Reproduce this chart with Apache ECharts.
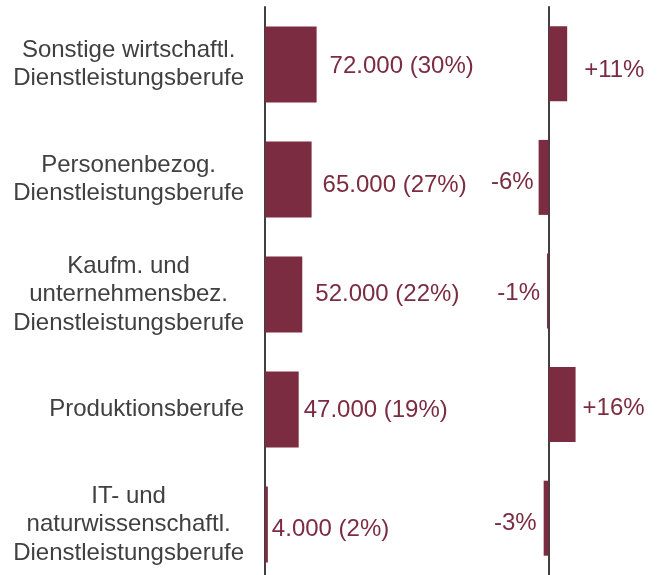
<!DOCTYPE html>
<html>
<head>
<meta charset="utf-8">
<title>Berufe</title>
<script src="https://cdn.jsdelivr.net/npm/echarts@6/dist/echarts.min.js"></script>
<style>
  html, body { margin: 0; padding: 0; background: #fff; }
  #chart { width: 662px; height: 575px; }
</style>
</head>
<body>
<div id="chart"></div>
<script>
// Daten
var categories = [
  "Sonstige wirtschaftl.\nDienstleistungsberufe",
  "Personenbezog.\nDienstleistungsberufe",
  "Kaufm. und\nunternehmensbez.\nDienstleistungsberufe",
  "Produktionsberufe",
  "IT- und\nnaturwissenschaftl.\nDienstleistungsberufe"
];
var counts = [72000, 65000, 52000, 47000, 4000];
var shares = [30, 27, 22, 19, 2];
var changes = [11, -6, -1, 16, -3];

var barColor = "#7c2c41";
var labelColor = "#7c2c41";
var textColor = "#404040";
var fontFamily = "'Liberation Sans', Arial, sans-serif";
var fontSize = 24;

// Beschriftungen sitzen im Original nicht ganz einheitlich
var countGap = [13, 11, 13, 5, 4];
var countShift = [2, 6, 0, 1, 5];
var changeGap = [17, 5, 7, 7, 7];
var changeShift = [7, 5, 2, 4, 5];

function fmtNumber(v) {
  return String(v).replace(/\B(?=(\d{3})+(?!\d))/g, ".");
}

function initChart(dom) {
  if (!dom) return;
  var countData = counts.map(function (v, i) {
    return {
      value: v,
      label: { distance: countGap[i], offset: [0, countShift[i]] }
    };
  });
  var changeData = changes.map(function (v, i) {
    return {
      value: v,
      label: {
        position: v < 0 ? "left" : "right",
        distance: changeGap[i],
        offset: [0, changeShift[i]]
      }
    };
  });
  var option = {
    animation: false,
    textStyle: { fontFamily: fontFamily },
    grid: [
      { left: 265, top: 7, width: 71.7, height: 575, outerBoundsMode: "none" },
      { left: 515.1, top: 7, width: 67.2, height: 568, outerBoundsMode: "none" }
    ],
    xAxis: [
      { gridIndex: 0, type: "value", min: 0, max: 100000, show: false },
      { gridIndex: 1, type: "value", min: -20, max: 20, show: false }
    ],
    yAxis: [
      {
        gridIndex: 0,
        type: "category",
        inverse: true,
        data: categories,
        offset: 1,
        axisLine: { show: true, lineStyle: { color: textColor, width: 2 } },
        axisTick: { show: false },
        splitLine: { show: false },
        axisLabel: {
          margin: 20,
          align: "right",
          color: textColor,
          fontSize: fontSize,
          lineHeight: 28.5,
          fontFamily: fontFamily,
          formatter: function (value) {
            // Zeilen zentriert, Block rechtsbündig
            return value
              .split("\n")
              .map(function (l) {
                return "{c|" + l + "}";
              })
              .join("\n");
          },
          rich: {
            c: {
              align: "center",
              color: textColor,
              fontSize: fontSize,
              lineHeight: 28.5,
              fontFamily: fontFamily
            }
          }
        }
      },
      {
        gridIndex: 1,
        type: "category",
        inverse: true,
        data: categories,
        axisLine: {
          show: true,
          onZero: true,
          lineStyle: { color: textColor, width: 2 }
        },
        axisTick: { show: false },
        axisLabel: { show: false },
        splitLine: { show: false }
      }
    ],
    series: [
      {
        type: "bar",
        xAxisIndex: 0,
        yAxisIndex: 0,
        data: countData,
        barWidth: 76,
        itemStyle: { color: barColor },
        label: {
          show: true,
          position: "right",
          color: labelColor,
          fontSize: fontSize,
          fontFamily: fontFamily,
          formatter: function (p) {
            return fmtNumber(p.value) + " (" + shares[p.dataIndex] + "%)";
          }
        }
      },
      {
        type: "bar",
        xAxisIndex: 1,
        yAxisIndex: 1,
        data: changeData,
        barWidth: 75,
        itemStyle: { color: barColor },
        label: {
          show: true,
          color: labelColor,
          fontSize: fontSize,
          fontFamily: fontFamily,
          formatter: function (p) {
            return (p.value > 0 ? "+" : "") + p.value + "%";
          }
        }
      }
    ]
  };
  var myChart = echarts.init(dom, null, { renderer: "canvas" });
  myChart.setOption(option);
}

initChart(document.getElementById("chart"));
</script>
</body>
</html>
